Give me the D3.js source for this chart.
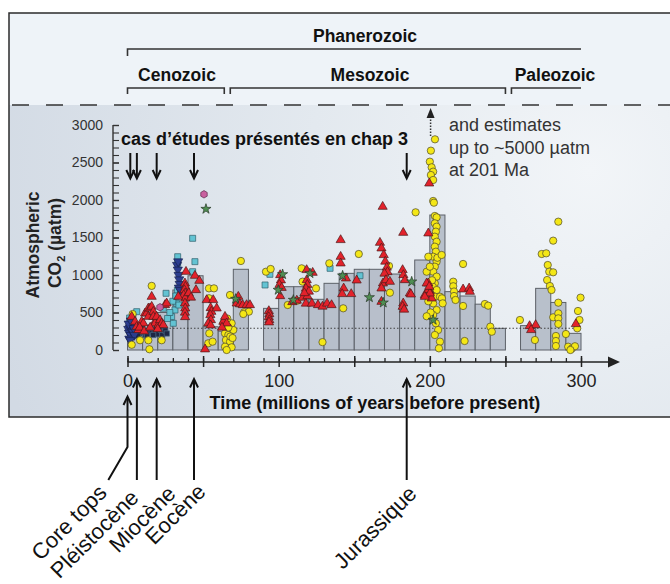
<!DOCTYPE html>
<html>
<head>
<meta charset="utf-8">
<script src="https://cdn.jsdelivr.net/npm/d3@7"></script>
<style>
  body { margin: 0; background: #fff; }
  svg { display: block; font-family: "Liberation Sans", Arial, Helvetica, sans-serif; }
</style>
</head>
<body>
<svg id="chart" width="670" height="584"></svg>
<script>
// ---- Data -----------------------------------------------------------------
// 10-Myr bin averages of atmospheric CO2 (µatm); each bin starts at binStartMa
const binStartMa = [0, 10, 20, 30, 40, 50, 60, 70,
  90, 100, 110, 120, 130, 140, 150, 160, 170, 180, 190, 200, 210, 220, 230, 240,
  260, 270, 280, 290];
const binCO2 = [280, 270, 500, 800, 990, 310, 250, 1076,
  555, 844, 844, 676, 889, 1022, 1076, 1076, 1013, 920, 1200, 1800, 778, 720, 611, 289,
  325, 822, 634, 222];

// Pre-industrial reference level
const referenceCO2 = 290;

// Proxy estimates [age Ma, CO2 µatm]
const paleosols = [
  [3.4,480],[2.8,70],[8.3,130],[13.8,130],[14.5,10],[16,855],[22.6,130],
  [53.9,822],[57.2,822],[53.9,690],[54.1,222],[53.4,89],[56.3,111],
  [63.4,356],[65.6,289],[64.5,222],[66.7,200],[65.1,133],[67.8,111],[64.5,44],[68.9,36],
  [70,267],[68.9,356],[67.8,733],[66.7,300],[68,180],[65.6,0],[69.5,160],[66,420],
  [75,1187],[77.2,503],[80.3,511],[76.6,480],
  [91.6,1044],[94.7,1080],[106,600],[112.3,658],[115.2,1089],[115.8,911],[124.7,822],
  [129,105],[133.5,1156],[142.7,556],[153,1280],[173,1120],[173.6,764],[190.6,1836],
  [203.4,2809],[200.7,2658],[200,2511],[201.2,2436],[202.2,2378],[200.7,2333],[202.2,2267],
  [202.2,1987],[202.7,1964],
  [203.3,1787],[204.5,1769],[203.3,1689],[204.5,1644],[204,1578],[203.3,1511],[204.5,1444],
  [203.3,1378],[204,1311],[202.2,1244],[204.5,1178],[203.3,1111],[202.2,1044],[204.5,978],
  [203.3,889],[202,844],[204.5,800],[203.3,711],[202.2,622],[204.5,533],[202.2,467],
  [204,356],[205.5,267],[203.3,200],[206.7,111],[206,22],[199,1244],[197.9,1044],[200,1111],
  [206.7,711],[208,689],[208.5,622],[199,650],[200.5,500],[197.9,450],[205,1230],[201.5,930],
  [207.8,1267],[222,1147],[215.5,911],[215.5,850],[216,780],[216,720],[217,667],[222,587],
  [223,120],[236.4,613],[238.6,591],[240,311],[241,244],
  [285,1711],[281.6,1458],[274,1280],[277,1289],[278,1133],[279,1044],[281.6,1036],
  [277.6,933],[279.4,853],[280.5,800],[285,631],[281.6,436],[285,489],[285,422],[285,347],
  [299.7,698],[298,520],[299,400],[297.5,289],[259.6,400],[269.5,133],[283.4,187],
  [283.4,120],[283.4,53],[290,213],[291.5,44],[294,20],[296,50],[293,0]
];

const stomata = [
  [2.8,444],[5,378],[6.1,311],[7.2,267],[9.4,378],[10.5,356],[11.6,489],[12.7,489],
  [13.8,556],[13.8,444],[14.9,556],[16,578],[16,711],[17.1,511],[17.1,444],[18.2,378],
  [18.2,356],[19.3,444],[20.4,333],[21.5,400],[22.6,356],[23.7,333],[24.8,600],[25.9,622],
  [8,300],[11,250],[15,300],[20,280],
  [38.7,1044],[44.6,991],[47.5,924],[45.3,800],[38,889],[38.3,844],[37.6,800],[38.1,756],
  [37.2,733],[38.2,689],[38,622],[38.2,556],[38,500],[38.1,440],[33.6,711],[40.5,760],[42,700],
  [52.4,667],[56.7,667],[55,560],[55.5,511],[54.8,467],[55.2,400],[59,556],[51.3,10],
  [53.4,356],[55,330],[63.4,378],[64.5,444],[65.6,356],[62.5,300],
  [73.3,711],[72.2,622],[74.4,611],[76.2,600],[78.8,600],[81,600],
  [93.5,520],[93.8,480],[93.5,440],[93.8,400],[93.6,370],
  [101,1000],[101.5,930],[100.5,870],[102,830],[101,720],[109,640],[112,660],[116,700],
  [118,620],[119,720],[118.5,1067],[122.5,1031],[118.6,933],[119,870],[118,820],[120,780],
  [117,760],[122,620],[126,600],[129,580],[132,620],[135,600],
  [141,1467],[141,1244],[141,1156],[144.5,956],[151.6,929],[143,822],[142,747],[148,747],
  [168.8,1911],[167,1431],[168,1356],[169.5,1267],[170.5,1180],[171.5,1100],[172,1040],
  [170,1020],[169,889],[168,822],[171,933],[173.6,911],[168,644],
  [182.4,1564],[182,1067],[182.5,1000],[183.5,933],[186.8,756],[187.5,742],[182.4,622],
  [182,578],[183,540],[196.7,733],[199,889],[200,780],[201.2,689],[199.6,2222],[199,1556],
  [197.9,889],[199,800],[200,756],[196.7,711],[199.6,844],
  [222,809],[226,822],[226.5,778],
  [266,320],[270,333],[267,267],[296.6,347]
];

const boron = [
  [1.4,427],[3.6,444],[6.1,511],[23.7,556],[25.5,756],[29.2,444],[30.3,356],[31.4,533],
  [32.5,622],[33.2,1244],[33.2,1156],[43.1,1489],[44.6,1178],[43.1,1044],[30,650],[28,500],
  [26.5,420],[33,800],[32,720],[34,600],
  [91,867],[94.2,1009],[134,1089],[153.8,991]
];

const alkenones = [
  [0.5,280],[1,230],[1.5,300],[2,200],[2.5,260],[3,320],[1.2,150],[0.8,350],[3.5,240],
  [4,290],[2.2,390],[4.5,200],[1.8,130],
  [32.8,1133],[33.3,1070],[33.8,1000],[34.2,940],[34.5,880],[34,830],[34.7,800],[33.5,1180]
];

const phytoplankton = [
  [6,250],[8,220],[10,280],[12,200],[14,260],[16,230],[18,250],[20,210],[22,270],[24,240],
  [9,300],[15,300],[19,290],[23,200],[11,240],[13,180],[17,200],[21,300],[25,260],[26,220],[7,190]
];

const liverworts = [
  [51.9,1880],[71.5,680],[99.7,800],[102.6,1009],[109.7,667],[120.7,1022],[142.3,991],
  [160,702],[169.2,631],[188,911],[202.2,400]
];

const nahcolite = [[50.6,2076],[21.5,570]];

// Geological intervals (Ma)
const eraNames = ["Cenozoic", "Mesozoic", "Paleozoic"];
const eraBounds = [[0, 66], [66, 252], [252, 300]];

// Case-study ages and their labels
const caseAgesMa = [0.2, 6.2, 19.3, 44, 184.7];
const caseLabels = ["Core tops", "Pléistocène", "Miocène", "Eocène", "Jurassique"];

const yTicks = d3.range(0, 3001, 500);
const xTicks = [0, 100, 200, 300];

// ---- Drawing --------------------------------------------------------------
const svg = d3.select("#chart");
const defs = svg.append("defs");

const grad = defs.append("radialGradient")
  .attr("id", "plotBg").attr("gradientUnits", "userSpaceOnUse")
  .attr("cx", 590).attr("cy", 170).attr("r", 620);
grad.append("stop").attr("offset", "0").attr("stop-color", "#f2f5f8");
grad.append("stop").attr("offset", "0.45").attr("stop-color", "#e3e9ef");
grad.append("stop").attr("offset", "1").attr("stop-color", "#d2dae4");

// panel backgrounds
svg.append("rect").attr("x", 9).attr("y", 13).attr("width", 670).attr("height", 92)
  .attr("fill", "#eef3f8");
svg.append("rect").attr("x", 9).attr("y", 105).attr("width", 670).attr("height", 312)
  .attr("fill", "url(#plotBg)");
svg.append("rect").attr("x", 9).attr("y", 13).attr("width", 670).attr("height", 404)
  .attr("fill", "none").attr("stroke", "#2b2b2b").attr("stroke-width", 1.5);
svg.append("line").attr("x1", 9).attr("x2", 670).attr("y1", 105).attr("y2", 105)
  .attr("stroke", "#333").attr("stroke-width", 1.6).attr("stroke-dasharray", "17,17")
  .attr("stroke-dashoffset", -3);

const x = d3.scaleLinear().domain([0, 300]).range([127.5, 581]);
const y = d3.scaleLinear().domain([0, 3000]).range([350, 125]);

// ---- era brackets
const hdr = svg.append("g").attr("fill", "none").attr("stroke", "#333").attr("stroke-width", 1.6);
hdr.append("path").attr("d", `M${x(0)},56 V49 H${x(300)}`);
eraBounds.forEach((b, i) => {
  const x0 = x(b[0]) + (b[0] > 0 ? 3 : 0);
  const x1 = x(b[1]) - (b[1] < 300 ? 3 : 0);
  const right = b[1] < 300 ? ` V94` : "";
  hdr.append("path").attr("d", `M${x0},94 V88 H${x1}${right}`);
});
svg.append("text").attr("x", 365).attr("y", 42).attr("text-anchor", "middle")
  .attr("font-size", 17.5).attr("font-weight", "bold").attr("fill", "#111").text("Phanerozoic");
const eraLabelX = [177, 370, 555];
eraNames.forEach((n, i) => {
  svg.append("text").attr("x", eraLabelX[i]).attr("y", 81).attr("text-anchor", "middle")
    .attr("font-size", 17.5).attr("font-weight", "bold").attr("fill", "#111").text(n);
});

// ---- bars
svg.append("g").selectAll("rect").data(binStartMa).join("rect")
  .attr("x", d => x(d)).attr("width", d => x(d + 10) - x(d))
  .attr("y", (d, i) => y(binCO2[i])).attr("height", (d, i) => y(0) - y(binCO2[i]))
  .attr("fill", "#b2bac6").attr("fill-opacity", 0.9)
  .attr("stroke", "#5c6168").attr("stroke-width", 1);

// reference level
svg.append("line").attr("x1", x(0)).attr("x2", x(300))
  .attr("y1", y(referenceCO2)).attr("y2", y(referenceCO2))
  .attr("stroke", "#333").attr("stroke-width", 0.9).attr("stroke-dasharray", "1.5,2");

// ---- axes
const yAxisX = 113;
const yMajor = svg.append("g").attr("transform", `translate(${yAxisX},0)`)
  .call(d3.axisLeft(y).tickValues(yTicks).tickSize(6).tickPadding(4).tickFormat(d3.format("d")));
yMajor.select(".domain").remove();
yMajor.selectAll(".tick line").attr("x2", 6).attr("stroke", "#333").attr("stroke-width", 1.3);
yMajor.selectAll(".tick text").attr("font-size", 14).attr("fill", "#333")
  .attr("font-family", "Liberation Sans, Arial, sans-serif");
const yMinor = svg.append("g").attr("transform", `translate(${yAxisX},0)`)
  .call(d3.axisLeft(y).tickValues(d3.range(0, 3001, 100)).tickSize(-6).tickFormat(""));
yMinor.select(".domain").remove();
yMinor.selectAll(".tick line").attr("stroke", "#333").attr("stroke-width", 1.1);
svg.append("line").attr("x1", yAxisX).attr("x2", yAxisX).attr("y1", y(3000)).attr("y2", y(0))
  .attr("stroke", "#333").attr("stroke-width", 1.4);

const xAxisY = 362;
const xMajor = svg.append("g").attr("transform", `translate(0,${xAxisY})`)
  .call(d3.axisBottom(x).tickValues(d3.range(0, 301, 50)).tickSize(5).tickPadding(7)
    .tickFormat(d => xTicks.includes(d) ? d : ""));
xMajor.select(".domain").remove();
xMajor.selectAll(".tick line").attr("y1", -6).attr("stroke", "#222").attr("stroke-width", 1.5);
xMajor.selectAll(".tick text").attr("font-size", 18).attr("fill", "#222")
  .attr("font-family", "Liberation Sans, Arial, sans-serif");
const xMinor = svg.append("g").attr("transform", `translate(0,${xAxisY})`)
  .call(d3.axisBottom(x).tickValues(d3.range(0, 301, 10)).tickSize(-4).tickFormat(""));
xMinor.select(".domain").remove();
xMinor.selectAll(".tick line").attr("stroke", "#222").attr("stroke-width", 1.3);
svg.append("line").attr("x1", x(0)).attr("x2", 611).attr("y1", xAxisY).attr("y2", xAxisY)
  .attr("stroke", "#222").attr("stroke-width", 1.6);
svg.append("path").attr("d", `M620,${xAxisY} L608,${xAxisY - 5.5} L608,${xAxisY + 5.5} Z`)
  .attr("fill", "#222");

// axis titles
svg.append("text").attr("x", 375).attr("y", 409).attr("text-anchor", "middle")
  .attr("font-size", 18).attr("font-weight", "bold").attr("fill", "#111")
  .text("Time (millions of years before present)");
svg.append("text").attr("transform", "translate(39,245) rotate(-90)").attr("text-anchor", "middle")
  .attr("font-size", 17.5).attr("font-weight", "bold").attr("fill", "#222").text("Atmospheric");
const co2 = svg.append("text").attr("transform", "translate(61,243) rotate(-90)")
  .attr("text-anchor", "middle").attr("font-size", 17.5).attr("font-weight", "bold").attr("fill", "#222");
co2.append("tspan").text("CO");
co2.append("tspan").attr("font-size", 11).attr("dy", 4).text("2");
co2.append("tspan").attr("dy", -4).text(" (µatm)");

// ---- proxy markers
const hexagon = {
  draw(ctx, size) {
    const r = Math.sqrt(size / (1.5 * Math.sqrt(3)));
    for (let k = 0; k < 6; k++) {
      const a = Math.PI / 6 + k * Math.PI / 3;
      k ? ctx.lineTo(r * Math.cos(a), r * Math.sin(a)) : ctx.moveTo(r * Math.cos(a), r * Math.sin(a));
    }
    ctx.closePath();
  }
};
function drawSeries(data, type, size, fill, stroke, rotate) {
  svg.append("g").selectAll("path").data(data).join("path")
    .attr("d", d3.symbol().type(type).size(size))
    .attr("transform", d => `translate(${x(d[0])},${y(d[1])})${rotate ? " rotate(180)" : ""}`)
    .attr("fill", fill).attr("stroke", stroke).attr("stroke-width", 0.7);
}
drawSeries(phytoplankton, d3.symbolSquare, 28, "#1e2745", "#4a6f8a", false);
drawSeries(boron, d3.symbolSquare, 36, "#62c3d3", "#2f5f6a", false);
drawSeries(alkenones, d3.symbolTriangle, 36, "#2b3d8f", "#16204d", true);
drawSeries(paleosols, d3.symbolCircle, 42, "#f4e716", "#4a4630", false);
drawSeries(stomata, d3.symbolTriangle, 36, "#e3222b", "#4a1a1a", false);
drawSeries(liverworts, d3.symbolStar, 32, "#4f8e52", "#2a3a2a", false);
drawSeries(nahcolite, hexagon, 36, "#c9609f", "#5a2a4a", false);

// ---- annotations
const ann = svg.append("g").attr("font-size", 18).attr("fill", "#333");
["and estimates", "up to ~5000 µatm", "at 201 Ma"].forEach((t, i) => {
  ann.append("text").attr("x", 449).attr("y", 131 + i * 22.5).text(t);
});
const ax = x(200.5);
svg.append("line").attr("x1", ax).attr("x2", ax).attr("y1", 136).attr("y2", 118)
  .attr("stroke", "#333").attr("stroke-width", 1.5).attr("stroke-dasharray", "1.5,1.5");
svg.append("path").attr("d", `M${ax},108 L${ax - 4},118 L${ax + 4},118 Z`).attr("fill", "#222");

svg.append("text").attr("x", 121).attr("y", 145).attr("font-size", 18).attr("font-weight", "bold")
  .attr("fill", "#111").text("cas d’études présentés en chap 3");

const arrows = svg.append("g").attr("stroke", "#111").attr("stroke-width", 2).attr("fill", "none");
caseAgesMa.forEach((m, i) => {
  const ux = i === 0 ? x(m) + 2.5 : x(m);
  arrows.append("line").attr("x1", ux).attr("x2", ux).attr("y1", 153).attr("y2", 178);
  arrows.append("path").attr("d", `M${ux - 4},170 L${ux},178.5 L${ux + 4},170`);
});

// arrows from the case-study labels up to the time axis
const bottom = svg.append("g").attr("stroke", "#111").attr("stroke-width", 2).attr("fill", "none");
caseAgesMa.forEach((m, i) => {
  const bx = i === 0 ? x(0) : x(m);
  if (i === 0) {
    bottom.append("path").attr("d", `M108.3,480 L${bx},447 L${bx},397`);
    bottom.append("path").attr("d", `M${bx - 4},405 L${bx},396.5 L${bx + 4},405`);
  } else {
    bottom.append("line").attr("x1", bx).attr("x2", bx).attr("y1", 480).attr("y2", 379);
    bottom.append("path").attr("d", `M${bx - 4},387.5 L${bx},379 L${bx + 4},387.5`);
  }
});
const labelEnds = [[108, 494], [140, 499], [177, 495], [207, 493], [418, 495]];
caseLabels.forEach((t, i) => {
  svg.append("text").attr("transform", `translate(${labelEnds[i][0]},${labelEnds[i][1]}) rotate(-45)`)
    .attr("text-anchor", "end").attr("font-size", 22).attr("fill", "#111").text(t);
});
</script>
</body>
</html>
